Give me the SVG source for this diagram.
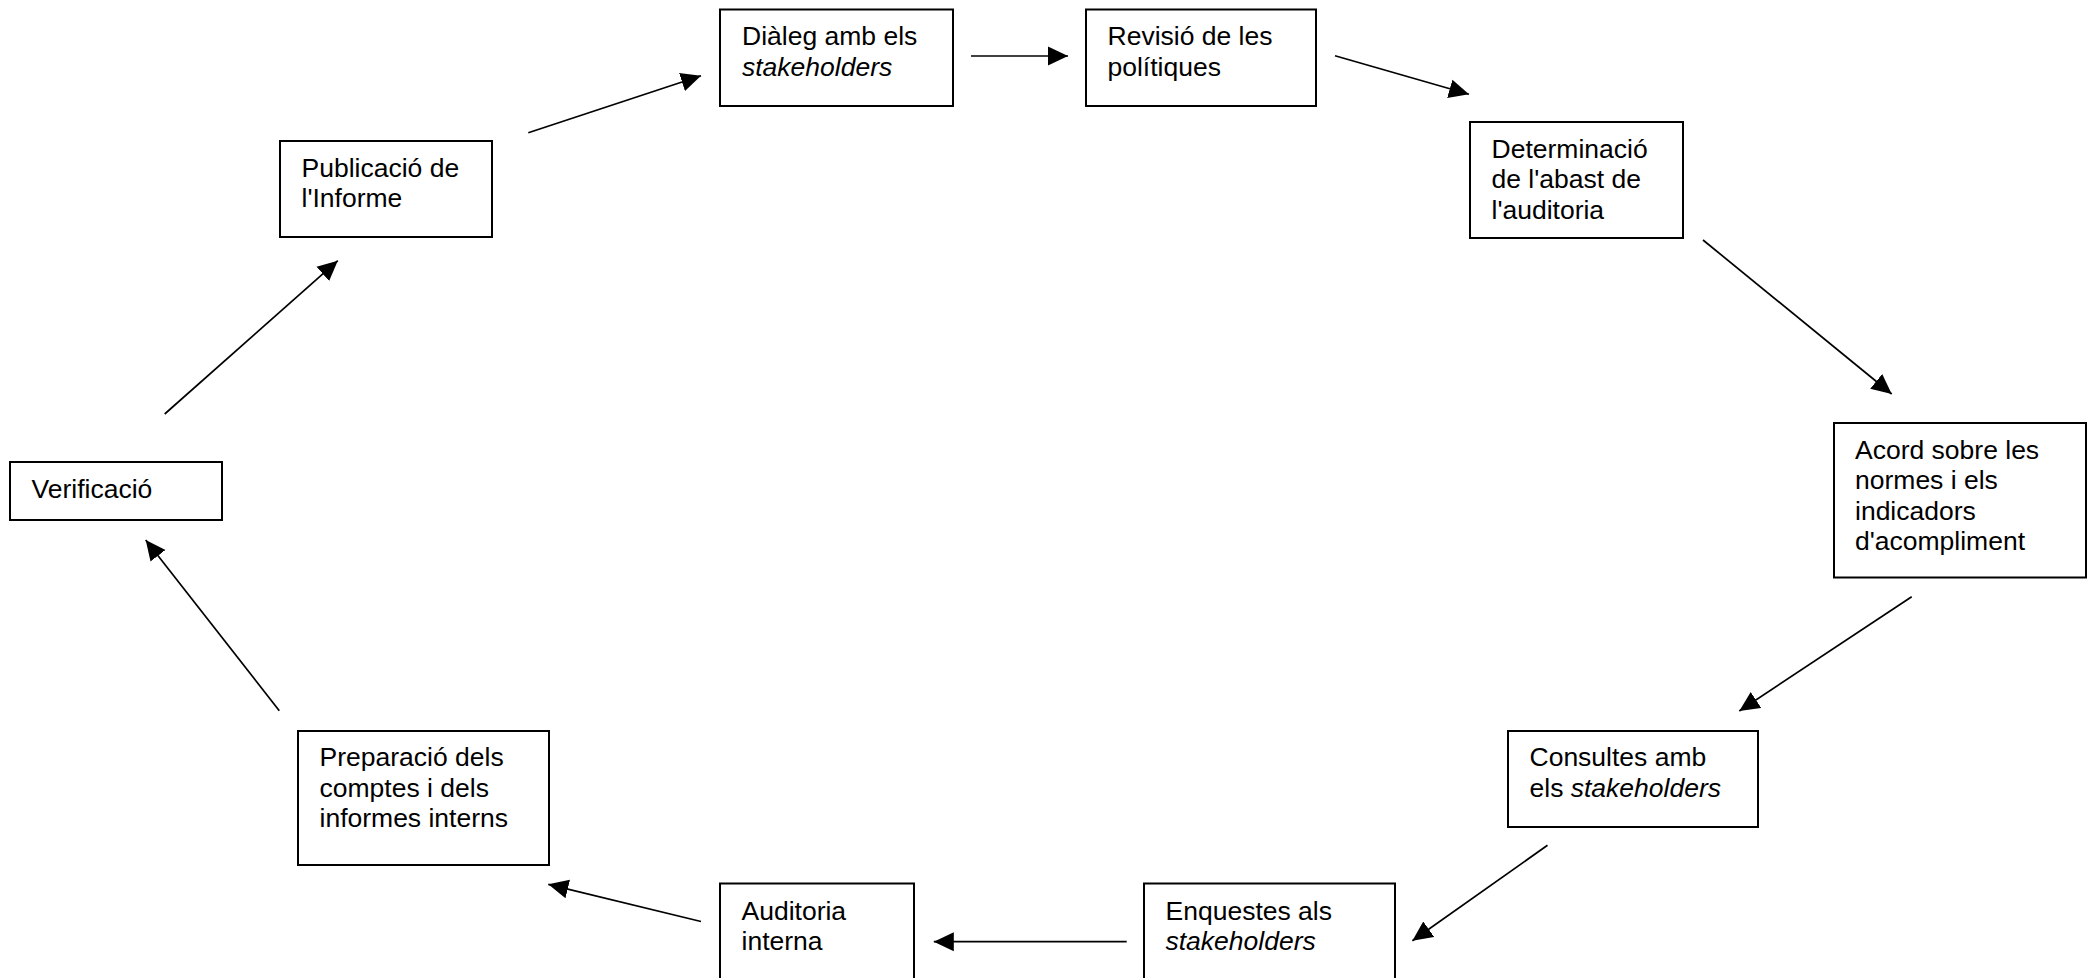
<svg xmlns="http://www.w3.org/2000/svg" width="2091" height="978" viewBox="0 0 2091 978">
<style>
.box{fill:#fff;stroke:#000;stroke-width:2}
.t{font-family:"Liberation Sans",Arial,sans-serif;font-size:26.5px;fill:#000}
.i{font-style:italic}
.c{stroke:#000;stroke-width:1.7;fill:none;marker-end:url(#ah)}
</style>
<defs>
<marker id="ah" markerUnits="userSpaceOnUse" markerWidth="22" markerHeight="22" refX="20" refY="10" orient="auto" viewBox="0 0 22 22">
<path d="M0,0.5 L20,10 L0,19.5 Z" fill="#000"/>
</marker>
</defs>
<rect width="2091" height="978" fill="#fff"/>
<g id="connectors">
<line class="c" x1="528.3" y1="132.7" x2="701" y2="75.7"/>
<line class="c" x1="971" y1="56" x2="1068" y2="56"/>
<line class="c" x1="1335" y1="55.7" x2="1469" y2="94.3"/>
<line class="c" x1="1703" y1="240" x2="1891.7" y2="394"/>
<line class="c" x1="1911.7" y1="596.7" x2="1739.3" y2="711"/>
<line class="c" x1="1547.5" y1="845.3" x2="1412.4" y2="940.7"/>
<line class="c" x1="1126.7" y1="941.7" x2="933.8" y2="941.7"/>
<line class="c" x1="701" y1="921.5" x2="548.3" y2="884.3"/>
<line class="c" x1="279.3" y1="710.7" x2="145.7" y2="540"/>
<line class="c" x1="164.7" y1="414" x2="337.8" y2="260.7"/>
</g>
<g id="n-dialeg">
<rect class="box" x="720" y="9.5" width="233" height="96.5"/>
<text class="t" x="742" y="45">Diàleg amb els</text>
<text class="t i" x="742" y="75.5">stakeholders</text>
</g>
<g id="n-revisio">
<rect class="box" x="1086" y="9.5" width="230" height="96.5"/>
<text class="t" x="1107.5" y="45">Revisió de les</text>
<text class="t" x="1107.5" y="75.5">polítiques</text>
</g>
<g id="n-determinacio">
<rect class="box" x="1470" y="122" width="213" height="116"/>
<text class="t" x="1491.5" y="157.5">Determinació</text>
<text class="t" x="1491.5" y="188">de l'abast de</text>
<text class="t" x="1491.5" y="218.5">l'auditoria</text>
</g>
<g id="n-acord">
<rect class="box" x="1834" y="423" width="252" height="154.5"/>
<text class="t" x="1855" y="458.5">Acord sobre les</text>
<text class="t" x="1855" y="489">normes i els</text>
<text class="t" x="1855" y="519.5">indicadors</text>
<text class="t" x="1855" y="550">d'acompliment</text>
</g>
<g id="n-consultes">
<rect class="box" x="1508" y="731" width="250" height="96"/>
<text class="t" x="1529.5" y="766">Consultes amb</text>
<text class="t" x="1529.5" y="796.5">els <tspan class="i">stakeholders</tspan></text>
</g>
<g id="n-enquestes">
<rect class="box" x="1144" y="883.5" width="251" height="110"/>
<text class="t" x="1165.5" y="919.5">Enquestes als</text>
<text class="t i" x="1165.5" y="950">stakeholders</text>
</g>
<g id="n-auditoria">
<rect class="box" x="720" y="883.5" width="194" height="110"/>
<text class="t" x="741.5" y="919.5">Auditoria</text>
<text class="t" x="741.5" y="950">interna</text>
</g>
<g id="n-preparacio">
<rect class="box" x="298" y="731" width="251" height="134"/>
<text class="t" x="319.5" y="766">Preparació dels</text>
<text class="t" x="319.5" y="796.5">comptes i dels</text>
<text class="t" x="319.5" y="827">informes interns</text>
</g>
<g id="n-verificacio">
<rect class="box" x="10" y="462" width="212" height="58"/>
<text class="t" x="31.5" y="497.5">Verificació</text>
</g>
<g id="n-publicacio">
<rect class="box" x="280" y="141" width="212" height="96"/>
<text class="t" x="301.5" y="176.5">Publicació de</text>
<text class="t" x="301.5" y="207">l'Informe</text>
</g>
</svg>
